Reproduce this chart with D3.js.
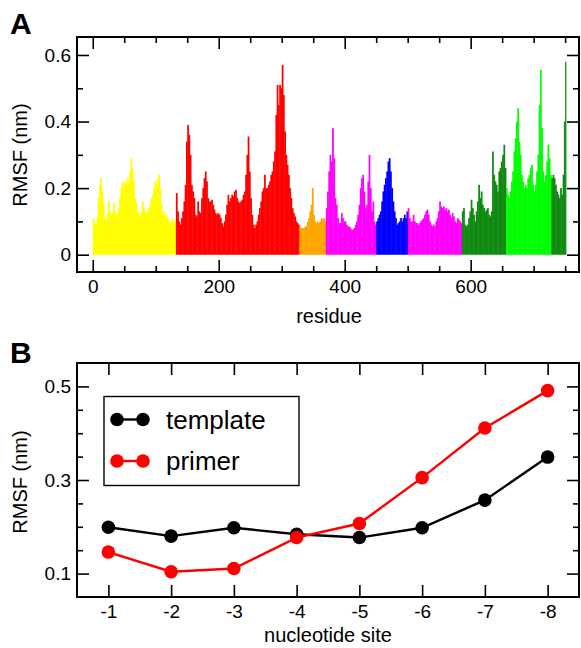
<!DOCTYPE html>
<html>
<head>
<meta charset="utf-8">
<script src="https://cdn.jsdelivr.net/npm/d3@7"></script>
<style>
  body { margin: 0; background: #fff; }
  text { font-family: "Liberation Sans", Arial, Helvetica, sans-serif; fill: #000; }
</style>
</head>
<body>
<script>
// ---- panel A: per-residue RMSF (one value every 2 residues, starting at residue 0)
const residueStep = 2;
const rmsf = [
  // yellow 0-130
  0.108, 0.095, 0.09, 0.11, 0.17, 0.21, 0.23, 0.19, 0.15, 0.11,
  0.10, 0.12, 0.16, 0.13, 0.12, 0.125, 0.155, 0.13, 0.12, 0.125,
  0.14, 0.17, 0.20, 0.22, 0.21, 0.22, 0.21, 0.23, 0.22, 0.25,
  0.29, 0.26, 0.22, 0.17, 0.155, 0.13, 0.125, 0.115, 0.13, 0.16,
  0.14, 0.13, 0.125, 0.13, 0.14, 0.15, 0.17, 0.18, 0.20, 0.22,
  0.21, 0.23, 0.24, 0.20, 0.15, 0.12, 0.13, 0.12, 0.115, 0.11,
  0.10, 0.095, 0.10, 0.11, 0.10, 0.095,
  // red 132-326
  0.185, 0.13, 0.10, 0.09, 0.11, 0.13, 0.16, 0.21, 0.34, 0.39,
  0.36, 0.30, 0.21, 0.19, 0.17, 0.12, 0.115, 0.16, 0.13, 0.125,
  0.17, 0.20, 0.23, 0.25, 0.22, 0.17, 0.16, 0.16, 0.165, 0.15,
  0.135, 0.125, 0.12, 0.125, 0.12, 0.11, 0.095, 0.085, 0.10, 0.12,
  0.15, 0.18, 0.16, 0.17, 0.18, 0.175, 0.19, 0.195, 0.17, 0.16,
  0.155, 0.16, 0.165, 0.18, 0.19, 0.24, 0.30, 0.355, 0.25, 0.17,
  0.12, 0.09, 0.08, 0.09, 0.10, 0.12, 0.14, 0.16, 0.19, 0.20,
  0.24, 0.20, 0.20, 0.21, 0.22, 0.24, 0.25, 0.28, 0.31, 0.42,
  0.51, 0.45, 0.51, 0.50, 0.57, 0.48, 0.37, 0.30, 0.27, 0.24,
  0.20, 0.17, 0.14, 0.125, 0.115, 0.10, 0.095, 0.09,
  // orange 328-368
  0.085, 0.08, 0.08, 0.08, 0.085, 0.085, 0.10, 0.11, 0.13, 0.15,
  0.20, 0.12, 0.10, 0.095, 0.10, 0.095, 0.10, 0.11, 0.105, 0.11,
  0.10,
  // magenta 370-448
  0.14, 0.19, 0.25, 0.30, 0.28, 0.38, 0.29, 0.17, 0.15, 0.11,
  0.095, 0.095, 0.125, 0.11, 0.10, 0.10, 0.09, 0.085, 0.085, 0.08,
  0.075, 0.075, 0.08, 0.09, 0.10, 0.12, 0.15, 0.20, 0.23, 0.24,
  0.19, 0.14, 0.15, 0.22, 0.30, 0.20, 0.13, 0.16, 0.10, 0.09,
  // blue 450-498
  0.10, 0.11, 0.12, 0.13, 0.16, 0.19, 0.21, 0.23, 0.25, 0.28,
  0.29, 0.25, 0.20, 0.16, 0.13, 0.11, 0.09, 0.095, 0.10, 0.11,
  0.10, 0.11, 0.12, 0.11, 0.13,
  // magenta 500-584
  0.14, 0.11, 0.10, 0.10, 0.12, 0.10, 0.095, 0.095, 0.09, 0.095,
  0.10, 0.105, 0.11, 0.12, 0.13, 0.135, 0.12, 0.10, 0.09, 0.085,
  0.09, 0.085, 0.10, 0.11, 0.13, 0.16, 0.145, 0.14, 0.145, 0.135,
  0.14, 0.13, 0.135, 0.12, 0.11, 0.125, 0.115, 0.10, 0.095, 0.11,
  0.105, 0.10, 0.095,
  // dark green 586-654
  0.13, 0.14, 0.09, 0.085, 0.09, 0.11, 0.13, 0.165, 0.14, 0.12,
  0.10, 0.13, 0.16, 0.21, 0.17, 0.19, 0.15, 0.14, 0.13, 0.135,
  0.14, 0.12, 0.115, 0.13, 0.31, 0.24, 0.22, 0.21, 0.19, 0.25,
  0.26, 0.28, 0.30, 0.33, 0.26,
  // green 656-726
  0.20, 0.18, 0.17, 0.19, 0.22, 0.25, 0.31, 0.35, 0.40, 0.44,
  0.34, 0.30, 0.24, 0.22, 0.20, 0.21, 0.20, 0.23, 0.24, 0.26,
  0.27, 0.21, 0.19, 0.21, 0.25, 0.30, 0.45, 0.555, 0.38, 0.25,
  0.22, 0.24, 0.28, 0.33, 0.29, 0.24,
  // dark green 728-750
  0.23, 0.24, 0.23, 0.21, 0.19, 0.18, 0.17, 0.20, 0.18, 0.24,
  0.40, 0.58
];
const segStart = [0, 131, 327, 369, 449, 499, 585, 655, 727];
const segColor = ["#ffff00", "#ff0000", "#ffa500", "#ff00ff", "#0000ff",
                  "#ff00ff", "#108a10", "#00ff00", "#108a10"];
const xTicksA = [0, 200, 400, 600];
const xMinorA = [50, 100, 150, 250, 300, 350, 450, 500, 550, 650, 700, 750];
const yTicksA = [0, 0.2, 0.4, 0.6];
const yMinorA = [0.1, 0.3, 0.5];

// ---- panel B: nucleotide sites
const sites = [1, 2, 3, 4, 5, 6, 7, 8];
const siteLabels = ["-1", "-2", "-3", "-4", "-5", "-6", "-7", "-8"];
const template = [0.199, 0.180, 0.198, 0.184, 0.177, 0.198, 0.257, 0.349];
const primer = [0.146, 0.104, 0.111, 0.177, 0.207, 0.305, 0.411, 0.491];
const yTicksB = [0.1, 0.3, 0.5];
const yMinorB = [0.15, 0.2, 0.25, 0.35, 0.4, 0.45];

const W = 581, H = 648;
const svg = d3.select("body").append("svg")
  .attr("width", W).attr("height", H);

const tickFont = 19;

// frame with inward ticks on all four sides
function frame(g, x, y, xMajor, xMinor, yMajor, yMinor, xFmt, yFmt) {
  const [x0, x1] = x.range();
  const [y0, y1] = y.range(); // y0 bottom, y1 top
  const axes = [
    [d3.axisBottom(x).tickValues(xMajor).tickSize(-12).tickPadding(8).tickFormat(xFmt), `translate(0,${y0})`],
    [d3.axisBottom(x).tickValues(xMinor).tickSize(-6).tickFormat(""), `translate(0,${y0})`],
    [d3.axisTop(x).tickValues(xMajor).tickSize(-12).tickFormat(""), `translate(0,${y1})`],
    [d3.axisTop(x).tickValues(xMinor).tickSize(-6).tickFormat(""), `translate(0,${y1})`],
    [d3.axisLeft(y).tickValues(yMajor).tickSize(-12).tickPadding(6).tickFormat(yFmt), `translate(${x0},0)`],
    [d3.axisLeft(y).tickValues(yMinor).tickSize(-6).tickFormat(""), `translate(${x0},0)`],
    [d3.axisRight(y).tickValues(yMajor).tickSize(-12).tickFormat(""), `translate(${x1},0)`],
    [d3.axisRight(y).tickValues(yMinor).tickSize(-6).tickFormat(""), `translate(${x1},0)`]
  ];
  axes.forEach(([ax, tr]) => {
    const a = g.append("g").attr("transform", tr).call(ax);
    a.select(".domain").remove();
    a.selectAll("line").attr("stroke", "#000").attr("stroke-width", 1.6);
    a.selectAll("text").attr("font-size", tickFont)
      .attr("font-family", "Liberation Sans, Arial, sans-serif").attr("fill", "#000");
  });
  g.append("rect")
    .attr("x", x0).attr("y", y1)
    .attr("width", x1 - x0).attr("height", y0 - y1)
    .attr("fill", "none").attr("stroke", "#000").attr("stroke-width", 2);
}

// ---------------- Panel A
const xA = d3.scaleLinear().domain([-25, 772]).range([77, 579]);
const yA = d3.scaleLinear().domain([-0.052, 0.654]).range([272, 37]);
const gA = svg.append("g");

const colorOf = r => segColor[d3.bisectRight(segStart, r) - 1];
const barW = xA(residueStep) - xA(0);

gA.append("g").selectAll("rect")
  .data(rmsf)
  .join("rect")
  .attr("x", (d, i) => xA(i * residueStep))
  .attr("width", (d, i) => i === rmsf.length - 1 ? barW : barW + 0.5)
  .attr("y", d => yA(d))
  .attr("height", d => yA(0) - yA(d))
  .attr("fill", (d, i) => colorOf(i * residueStep));

frame(gA, xA, yA, xTicksA, xMinorA, yTicksA, yMinorA,
      d3.format("d"), d => d === 0 ? "0" : d3.format(".1f")(d));

svg.append("text").attr("x", 329).attr("y", 323)
  .attr("text-anchor", "middle").attr("font-size", 20).text("residue");
svg.append("text")
  .attr("transform", "translate(27,155) rotate(-90)")
  .attr("text-anchor", "middle").attr("font-size", 20).text("RMSF (nm)");
svg.append("text").attr("x", 10).attr("y", 34)
  .attr("font-size", 30).attr("font-weight", "bold").text("A");

// ---------------- Panel B
const xB = d3.scaleLinear().domain([0.5, 8.5]).range([77, 579]);
const yB = d3.scaleLinear().domain([0.05, 0.55]).range([597, 363]);
const gB = svg.append("g");

frame(gB, xB, yB, sites, [], yTicksB, yMinorB,
      (d, i) => siteLabels[i], d3.format(".1f"));

const line = d3.line().x((d, i) => xB(sites[i])).y(d => yB(d));
[[template, "#000"], [primer, "#ff0000"]].forEach(([vals, col]) => {
  gB.append("path").datum(vals)
    .attr("d", line).attr("fill", "none")
    .attr("stroke", col).attr("stroke-width", 2.4);
  gB.append("g").selectAll("circle").data(vals).join("circle")
    .attr("cx", (d, i) => xB(sites[i])).attr("cy", d => yB(d))
    .attr("r", 6.8).attr("fill", col);
});

// legend
const leg = gB.append("g");
leg.append("rect").attr("x", 104).attr("y", 396.5).attr("width", 195).attr("height", 89)
  .attr("fill", "#fff").attr("stroke", "#000").attr("stroke-width", 1.4);
[["template", "#000", 419.5], ["primer", "#ff0000", 461]].forEach(([lab, col, y]) => {
  leg.append("line").attr("x1", 117).attr("x2", 143).attr("y1", y).attr("y2", y)
    .attr("stroke", col).attr("stroke-width", 2.4);
  [117, 143].forEach(cx => leg.append("circle").attr("cx", cx).attr("cy", y)
    .attr("r", 6.8).attr("fill", col));
  leg.append("text").attr("x", 166).attr("y", y + 9)
    .attr("font-size", 26).text(lab);
});

svg.append("text").attr("x", 328).attr("y", 642)
  .attr("text-anchor", "middle").attr("font-size", 20).text("nucleotide site");
svg.append("text")
  .attr("transform", "translate(27,482) rotate(-90)")
  .attr("text-anchor", "middle").attr("font-size", 20).text("RMSF (nm)");
svg.append("text").attr("x", 10).attr("y", 363)
  .attr("font-size", 30).attr("font-weight", "bold").text("B");
</script>
</body>
</html>
